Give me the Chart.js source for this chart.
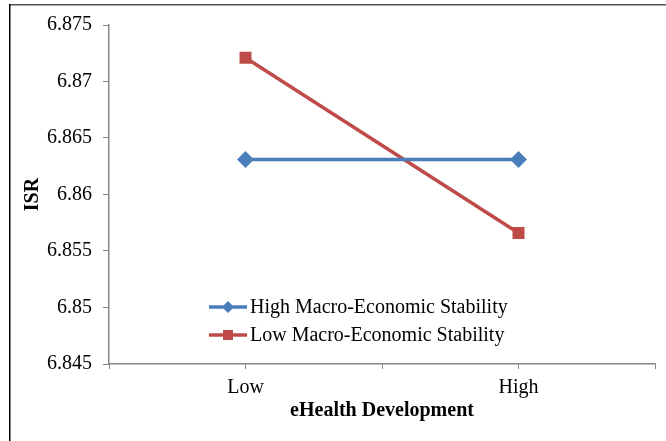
<!DOCTYPE html>
<html>
<head>
<meta charset="utf-8">
<script src="https://cdn.jsdelivr.net/npm/chart.js@4"></script>
<style>
  body { margin: 0; background: #fff; }
  #wrap { width: 666px; height: 441px; }
</style>
</head>
<body>
<div id="wrap"><canvas id="chart" width="666" height="441"></canvas></div>
<script>
const categories = ['Low', 'High']
const highStability = [6.8631, 6.8631]
const lowStability = [6.8721, 6.8566]
const seriesNames = ['High Macro-Economic Stability', 'Low Macro-Economic Stability']

const BLUE = '#4A7EBB'
const RED = '#BE4B48'
const AXIS = '#868686'
const FONT = 'Liberation Serif'
const SIZE = 20

// Excel puts a tick on every point and between them, so pad the category list
const labels = ['']
const padData = (vals) => {
  const out = [null]
  vals.forEach(v => { out.push(v, null) })
  return out
}
categories.forEach(c => { labels.push(c, '') })

const frame = {
  id: 'frame',
  beforeDraw(chart) {
    const ctx = chart.ctx
    ctx.save()
    ctx.fillStyle = '#fff'
    ctx.fillRect(0, 0, chart.width, chart.height)
    ctx.lineWidth = 1.5
    ctx.strokeStyle = '#555'
    ctx.beginPath()
    ctx.moveTo(9, 4.75)
    ctx.lineTo(chart.width, 4.75)
    ctx.stroke()
    ctx.strokeStyle = '#000'
    ctx.beginPath()
    ctx.moveTo(9.75, 4)
    ctx.lineTo(9.75, chart.height)
    ctx.stroke()
    ctx.restore()
  }
}

const innerLegend = {
  id: 'innerLegend',
  afterDraw(chart) {
    const ctx = chart.ctx
    const x0 = 209
    const rows = [307, 335]
    ctx.save()
    chart.data.datasets.forEach((ds, i) => {
      const y = rows[i]
      ctx.strokeStyle = ds.borderColor
      ctx.lineWidth = 3.5
      ctx.beginPath()
      ctx.moveTo(x0, y)
      ctx.lineTo(x0 + 38, y)
      ctx.stroke()
      ctx.fillStyle = ds.pointBackgroundColor
      const cx = x0 + 19
      if (ds.pointStyle === 'rect') {
        ctx.fillRect(cx - 5, y - 5, 10, 10)
      } else {
        ctx.beginPath()
        ctx.moveTo(cx, y - 6)
        ctx.lineTo(cx + 6, y)
        ctx.lineTo(cx, y + 6)
        ctx.lineTo(cx - 6, y)
        ctx.closePath()
        ctx.fill()
      }
      ctx.fillStyle = '#000'
      ctx.font = SIZE + 'px "' + FONT + '"'
      ctx.textBaseline = 'middle'
      ctx.fillText(ds.label, x0 + 41, y + 1)
    })
    ctx.restore()
  }
}

new Chart(document.getElementById('chart'), {
  type: 'line',
  data: {
    labels,
    datasets: [
      {
        label: seriesNames[0],
        data: padData(highStability),
        borderColor: BLUE,
        backgroundColor: BLUE,
        pointBackgroundColor: BLUE,
        pointBorderColor: BLUE,
        pointStyle: 'rectRot',
        pointRadius: 6,
        borderWidth: 3.5,
        spanGaps: true
      },
      {
        label: seriesNames[1],
        data: padData(lowStability),
        borderColor: RED,
        backgroundColor: RED,
        pointBackgroundColor: RED,
        pointBorderColor: RED,
        pointStyle: 'rect',
        pointRadius: 6,
        borderWidth: 3.5,
        spanGaps: true
      }
    ]
  },
  options: {
    responsive: false,
    animation: false,
    layout: { padding: { left: 17, right: 11, top: 25, bottom: 14 } },
    plugins: {
      legend: { display: false },
      tooltip: { enabled: false }
    },
    scales: {
      x: {
        type: 'category',
        offset: false,
        grid: { drawOnChartArea: false, color: AXIS, tickLength: 5, offset: false },
        border: { color: AXIS, width: 1.5 },
        ticks: {
          autoSkip: false,
          maxRotation: 0,
          padding: 7,
          color: '#000',
          font: { family: FONT, size: SIZE }
        },
        title: {
          display: true,
          text: 'eHealth Development',
          color: '#000',
          font: { family: FONT, size: SIZE, weight: 'bold' },
          padding: { top: 0 }
        },
        afterFit(scale) { scale.height = 63 }
      },
      y: {
        min: 6.845,
        max: 6.875,
        grid: { drawOnChartArea: false, color: AXIS, tickLength: 6 },
        border: { color: AXIS, width: 1.5 },
        ticks: {
          stepSize: 0.005,
          padding: 11,
          color: '#000',
          font: { family: FONT, size: SIZE },
          callback: (v) => parseFloat(v.toFixed(3)).toString()
        },
        title: {
          display: true,
          text: 'ISR',
          color: '#000',
          font: { family: FONT, size: SIZE, weight: 'bold' }
        },
        afterFit(scale) { scale.width = 92 }
      }
    }
  },
  plugins: [frame, innerLegend]
})
</script>
</body>
</html>
